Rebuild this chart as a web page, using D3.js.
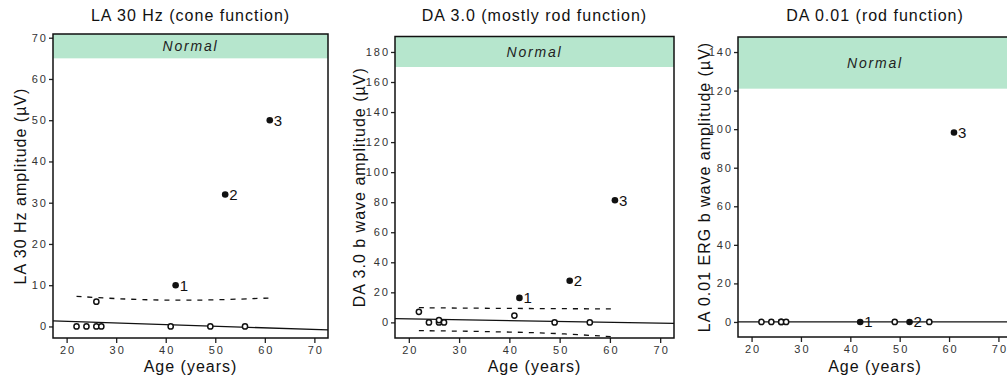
<!DOCTYPE html>
<html>
<head>
<meta charset="utf-8">
<script src="https://cdn.jsdelivr.net/npm/d3@7"></script>
<style>
  body { margin: 0; background: #fff; }
  svg { display: block; font-family: "Liberation Sans", Arial, sans-serif; }
</style>
</head>
<body>
<svg></svg>
<script>
// ages of the open (other) and filled (numbered) patients
let openAge = [22, 24, 26, 26, 27, 41, 49, 56]
let patientAge = [42, 52, 61]
let patientLabel = ['1', '2', '3']

// LA 30 Hz
let laOpen = [0, 0, 0, 6, 0, 0, 0, 0]
let laPatient = [10, 32, 50]
// DA 3.0
let da3Open = [7, 0, 0, 1.5, 0, 4.5, 0, 0]
let da3Patient = [16.3, 27.7, 81.3]
// DA 0.01 (41 hidden behind patient 1)
let da001Open = [0, 0, 0, 0, 0, null, 0, 0]
let da001Patient = [0, 0, 98.3]

// fitted line ends
let fitAge = [17.25, 72.75]
let laFit = [1.35, -0.85]
let da3Fit = [2.5, -0.7]
let da001Fit = [0, 0]

// dashed interval bounds
let boundAge = [22, 30, 40, 50, 61]
let laUpper = [7.3, 6.7, 6.3, 6.4, 6.9]
let da3Upper = [9.8, 9.5, 9.3, 9.1, 9.0]
let da3Lower = [-5.5, -5.8, -6.4, -7.3, -9.7]

// lower limit of normal
let laNormal = 65
let da3Normal = 170
let da001Normal = 121

let xTicks = [20, 30, 40, 50, 60, 70]

let width = 1007
let height = 379

let svg = d3.select('svg').attr('width', width).attr('height', height)

let panels = [
  {
    title: 'LA 30 Hz (cone function)', ylab: 'LA 30 Hz amplitude (\u00b5V)',
    left: 53, right: 328, top: 34, bottom: 338, ylabX: 26,
    yDomain: [-2.8, 70.9], yTicks: d3.range(0, 71, 10), normal: laNormal,
    open: laOpen, patient: laPatient, fit: laFit, bounds: [laUpper]
  },
  {
    title: 'DA 3.0 (mostly rod function)', ylab: 'DA 3.0 b wave amplitude (\u00b5V)',
    left: 395, right: 674, top: 36.5, bottom: 338, ylabX: 365,
    yDomain: [-10.4, 190.3], yTicks: d3.range(0, 181, 20), normal: da3Normal,
    open: da3Open, patient: da3Patient, fit: da3Fit, bounds: [da3Upper, da3Lower]
  },
  {
    title: 'DA 0.01 (rod function)', ylab: 'LA 0.01 ERG b wave amplitude (\u00b5V)',
    left: 738, right: 1012, top: 37, bottom: 337, ylabX: 710,
    yDomain: [-7.8, 147.8], yTicks: d3.range(0, 141, 20), normal: da001Normal,
    open: da001Open, patient: da001Patient, fit: da001Fit, bounds: []
  }
]

let drawPanel = (p, i) => {
  let g = svg.append('g')
  let xScale = d3.scaleLinear().domain([17.25, 72.75]).range([p.left, p.right])
  let yScale = d3.scaleLinear().domain(p.yDomain).range([p.bottom, p.top])

  g.append('clipPath').attr('id', 'clip' + i)
    .append('rect')
    .attr('x', p.left).attr('y', p.top)
    .attr('width', p.right - p.left).attr('height', p.bottom - p.top)

  // normal band
  g.append('rect')
    .attr('x', p.left).attr('y', p.top)
    .attr('width', p.right - p.left)
    .attr('height', yScale(p.normal) - p.top)
    .attr('fill', '#b6e6cd')
  g.append('text')
    .attr('x', (p.left + p.right) / 2)
    .attr('y', (p.top + yScale(p.normal)) / 2)
    .attr('dy', '0.36em')
    .attr('text-anchor', 'middle')
    .attr('font-size', 14)
    .attr('font-style', 'italic')
    .attr('letter-spacing', 1.8)
    .attr('fill', '#222')
    .text('Normal')

  let plot = g.append('g').attr('clip-path', 'url(#clip' + i + ')')

  // fitted line
  let line = d3.line().x((d) => xScale(d[0])).y((d) => yScale(d[1]))
  plot.append('path')
    .datum(fitAge.map((a, k) => [a, p.fit[k]]))
    .attr('d', line)
    .attr('fill', 'none')
    .attr('stroke', '#111')
    .attr('stroke-width', 1.3)

  // interval bounds
  p.bounds.forEach((b) => {
    plot.append('path')
      .datum(boundAge.map((a, k) => [a, b[k]]))
      .attr('d', d3.line().curve(d3.curveBasis).x((d) => xScale(d[0])).y((d) => yScale(d[1])))
      .attr('fill', 'none')
      .attr('stroke', '#111')
      .attr('stroke-width', 1.3)
      .attr('stroke-dasharray', '5,6')
  })

  // other patients
  let openData = openAge.map((a, k) => [a, p.open[k]]).filter((d) => d[1] !== null)
  plot.selectAll('circle.open')
    .data(openData)
    .enter()
    .append('circle')
    .attr('class', 'open')
    .attr('cx', (d) => xScale(d[0]))
    .attr('cy', (d) => yScale(d[1]))
    .attr('r', 2.6)
    .attr('fill', '#fff')
    .attr('stroke', '#111')
    .attr('stroke-width', 1.5)

  // numbered patients
  let patData = patientAge.map((a, k) => [a, p.patient[k], patientLabel[k]])
  plot.selectAll('circle.pat')
    .data(patData)
    .enter()
    .append('circle')
    .attr('class', 'pat')
    .attr('cx', (d) => xScale(d[0]))
    .attr('cy', (d) => yScale(d[1]))
    .attr('r', 3.3)
    .attr('fill', '#111')
  plot.selectAll('text.pat')
    .data(patData)
    .enter()
    .append('text')
    .attr('class', 'pat')
    .attr('x', (d) => xScale(d[0]) + 4)
    .attr('y', (d) => yScale(d[1]))
    .attr('dy', '0.36em')
    .attr('font-size', 15)
    .attr('fill', '#111')
    .text((d) => d[2])

  // axes
  let xAxis = d3.axisBottom(xScale).tickValues(xTicks).tickSize(5).tickPadding(3)
  let gx = g.append('g')
    .attr('transform', 'translate(0,' + p.bottom + ')')
    .call(xAxis)
  let yAxis = d3.axisLeft(yScale).tickValues(p.yTicks).tickSize(4).tickPadding(1)
  let gy = g.append('g')
    .attr('transform', 'translate(' + p.left + ',0)')
    .call(yAxis)
  ;[gx, gy].forEach((ax) => {
    ax.select('.domain').remove()
    ax.selectAll('.tick line').attr('stroke', '#222').attr('stroke-width', 1.3)
    ax.selectAll('.tick text')
      .attr('font-size', 11)
      .attr('letter-spacing', 2)
      .attr('fill', '#333')
      .attr('font-family', '"Liberation Sans", Arial, sans-serif')
  })
  gx.selectAll('.tick text').attr('dx', 1)

  // frame
  g.append('rect')
    .attr('x', p.left).attr('y', p.top)
    .attr('width', p.right - p.left).attr('height', p.bottom - p.top)
    .attr('fill', 'none')
    .attr('stroke', '#111')
    .attr('stroke-width', 1.5)

  // titles
  g.append('text')
    .attr('x', (p.left + p.right) / 2)
    .attr('y', 21)
    .attr('text-anchor', 'middle')
    .attr('font-size', 16)
    .attr('letter-spacing', 1)
    .attr('fill', '#111')
    .text(p.title)
  g.append('text')
    .attr('x', (p.left + p.right) / 2)
    .attr('y', 371.5)
    .attr('text-anchor', 'middle')
    .attr('font-size', 16)
    .attr('letter-spacing', 1)
    .attr('fill', '#111')
    .text('Age (years)')
  g.append('text')
    .attr('transform', 'translate(' + p.ylabX + ',' + (p.top + p.bottom) / 2 + ') rotate(-90)')
    .attr('text-anchor', 'middle')
    .attr('font-size', 16)
    .attr('letter-spacing', 1)
    .attr('fill', '#111')
    .text(p.ylab)
}

panels.forEach(drawPanel)
</script>
</body>
</html>
